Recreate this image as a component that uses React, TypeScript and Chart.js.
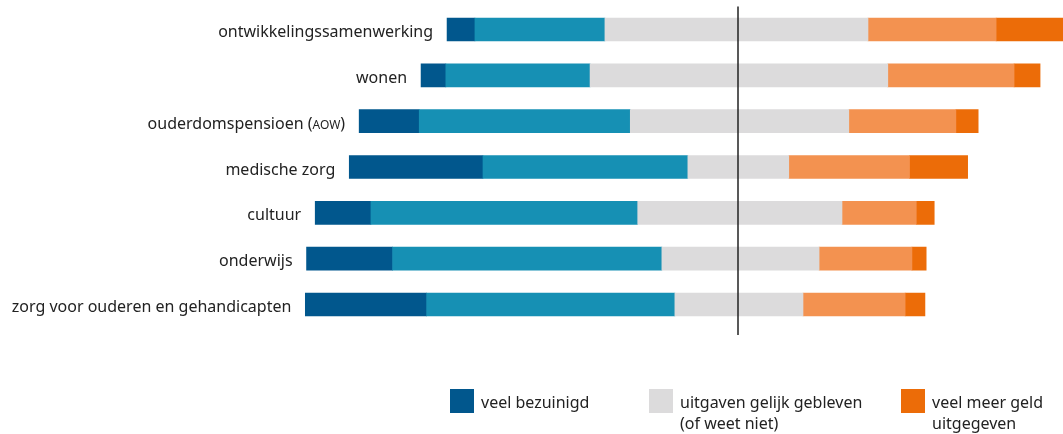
import { useEffect, useRef } from 'react';
import { Chart, registerables } from 'chart.js';

Chart.register(...registerables);

const categories = [
  'ontwikkelingssamenwerking',
  'wonen',
  'ouderdomspensioen (AOW)',
  'medische zorg',
  'cultuur',
  'onderwijs',
  'zorg voor ouderen en gehandicapten',
];
// percentages
const veelBezuinigd = [4.5, 4.0, 9.7, 21.6, 9.0, 13.9, 19.6];
const bezuinigd = [21.0, 23.3, 34.1, 33.1, 43.1, 43.5, 40.1];
const gelijkLinks = [21.5, 23.9, 17.4, 8.1, 16.2, 12.3, 10.2];
const gelijkRechts = [21.0, 24.2, 17.9, 8.2, 16.8, 13.1, 10.5];
const meer = [20.7, 20.4, 17.3, 19.5, 12.0, 15.0, 16.5];
const veelMeer = [11.3, 4.2, 3.6, 9.4, 2.9, 2.3, 3.2];

const legendLabels = [
  ['veel bezuinigd'],
  ['uitgaven gelijk gebleven', '(of weet niet)'],
  ['veel meer geld', 'uitgegeven'],
];

const DARK_BLUE = '#01578d';
const MID_BLUE = '#1690b4';
const GREY = '#dcdbdc';
const LIGHT_OR = '#f39250';
const DARK_OR = '#ec6c08';
const TEXT = '#222222';
const FONT = '"Noto Sans", sans-serif';

function segments(text: string) {
  const parts: { t: string; small: boolean }[] = [];
  const re = /([A-Z]{2,})/g;
  let last = 0;
  let m: RegExpExecArray | null;
  while ((m = re.exec(text))) {
    if (m.index > last) parts.push({ t: text.slice(last, m.index), small: false });
    parts.push({ t: m[1], small: true });
    last = m.index + m[1].length;
  }
  if (last < text.length) parts.push({ t: text.slice(last), small: false });
  return parts;
}

function drawRich(ctx: CanvasRenderingContext2D, text: string, right: number, y: number, size: number) {
  const parts = segments(text);
  const widths = parts.map((p) => {
    ctx.font = `${p.small ? Math.round(size * 0.78) : size}px ${FONT}`;
    return ctx.measureText(p.t).width;
  });
  const total = widths.reduce((a, b) => a + b, 0);
  let x = right - total;
  parts.forEach((p, i) => {
    ctx.font = `${p.small ? Math.round(size * 0.78) : size}px ${FONT}`;
    ctx.fillText(p.t, x, y);
    x += widths[i];
  });
}

const overlayPlugin = {
  id: 'overlay',
  afterDatasetsDraw(chart: any) {
    const ctx: CanvasRenderingContext2D = chart.ctx;
    const xScale = chart.scales.x;
    const area = chart.chartArea;
    ctx.save();
    const cx = Math.round(xScale.getPixelForValue(0));
    ctx.strokeStyle = TEXT;
    ctx.lineWidth = 1.5;
    ctx.beginPath();
    ctx.moveTo(cx, area.top);
    ctx.lineTo(cx, 335);
    ctx.stroke();

    const meta = chart.getDatasetMeta(2);
    ctx.fillStyle = TEXT;
    ctx.textAlign = 'left';
    ctx.textBaseline = 'alphabetic';
    meta.data.forEach((el: any, i: number) => {
      const left = Math.min(el.x, el.base);
      drawRich(ctx, categories[i], left - 14, el.y + 7.5, 16);
    });

    const legendColors = [DARK_BLUE, GREY, DARK_OR];
    const boxX = [450, 649, 901];
    legendLabels.forEach((lines, i) => {
      ctx.fillStyle = legendColors[i];
      ctx.fillRect(boxX[i], 389, 24, 24);
      ctx.fillStyle = TEXT;
      ctx.font = `16px ${FONT}`;
      lines.forEach((ln, j) => {
        ctx.fillText(ln, boxX[i] + 31, 407.5 + j * 21);
      });
    });
    ctx.restore();
  },
};

export default function App() {
  const ref = useRef<HTMLCanvasElement>(null);
  useEffect(() => {
    if (!ref.current) return;
    const neg = (a: number[]) => a.map((v) => -v);
    const common = { barThickness: 23, borderWidth: 0 };
    const chart = new Chart(ref.current, {
      type: 'bar',
      data: {
        labels: categories,
        datasets: [
          { label: 'gelijk (links)', data: neg(gelijkLinks), backgroundColor: GREY, ...common },
          { label: 'bezuinigd', data: neg(bezuinigd), backgroundColor: MID_BLUE, ...common },
          { label: 'veel bezuinigd', data: neg(veelBezuinigd), backgroundColor: DARK_BLUE, ...common },
          { label: 'gelijk (rechts)', data: gelijkRechts, backgroundColor: GREY, ...common },
          { label: 'meer', data: meer, backgroundColor: LIGHT_OR, ...common },
          { label: 'veel meer', data: veelMeer, backgroundColor: DARK_OR, ...common },
        ],
      },
      options: {
        indexAxis: 'y',
        animation: false,
        responsive: false,
        maintainAspectRatio: false,
        layout: { padding: { left: 0, right: 0, top: 6.6, bottom: 106.6 } },
        scales: {
          x: { display: false, stacked: true, min: -738 / 6.19, max: 325 / 6.19 },
          y: { display: false, stacked: true },
        },
        plugins: {
          legend: { display: false },
          tooltip: { enabled: false },
        },
      },
      plugins: [overlayPlugin],
    });
    return () => chart.destroy();
  }, []);
  return (
    <div style={{ position: 'fixed', left: 0, top: 0, width: 1063, height: 434, background: '#fff' }}>
      <canvas ref={ref} width={1063} height={434} style={{ width: 1063, height: 434, display: 'block' }} />
    </div>
  );
}
